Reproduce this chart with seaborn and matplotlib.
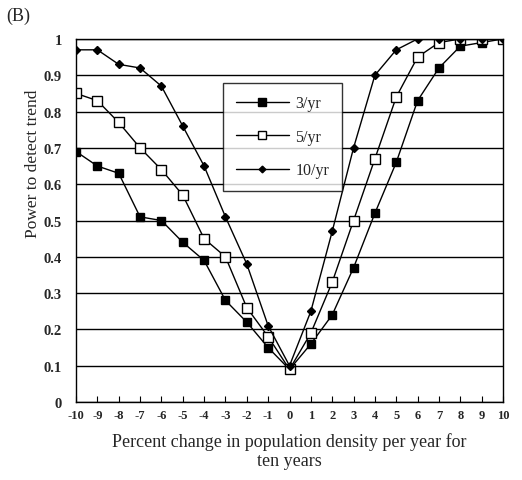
import matplotlib
matplotlib.use("Agg")
import matplotlib.pyplot as plt
import seaborn as sns
import pandas as pd

change = list(range(-10, 11))
power_3 = [0.69, 0.65, 0.63, 0.51, 0.50, 0.44, 0.39, 0.28, 0.22, 0.15, 0.09,
           0.16, 0.24, 0.37, 0.52, 0.66, 0.83, 0.92, 0.98, 0.99, 1.0]
power_5 = [0.85, 0.83, 0.77, 0.70, 0.64, 0.57, 0.45, 0.40, 0.26, 0.18, 0.09,
           0.19, 0.33, 0.50, 0.67, 0.84, 0.95, 0.99, 1.0, 1.0, 1.0]
power_10 = [0.97, 0.97, 0.93, 0.92, 0.87, 0.76, 0.65, 0.51, 0.38, 0.21, 0.10,
            0.25, 0.47, 0.70, 0.90, 0.97, 1.0, 1.0, 1.0, 1.0, 1.0]
labels = ["3/yr", "5/yr", "10/yr"]

sns.set_style("white")
plt.rcParams['font.family'] = ['Liberation Serif', 'DejaVu Serif']

fig = plt.figure(figsize=(5.22, 4.81), dpi=100)
ax = fig.add_axes([0.1456, 0.162, 0.818, 0.755])

# стили маркеров для каждой серии
styles = [
    dict(marker='s', markersize=6, markerfacecolor='black', markeredgecolor='black'),
    dict(marker='s', markersize=7, markerfacecolor='white', markeredgecolor='black'),
    dict(marker='D', markersize=4, markerfacecolor='black', markeredgecolor='black'),
]
for vals, lab, st in zip([power_3, power_5, power_10], labels, styles):
    df = pd.DataFrame({'change': change, 'power': vals})
    sns.lineplot(x='change', y='power', data=df, ax=ax, color='black',
                 linewidth=1, label=lab, markeredgewidth=1, **st)

ax.set_xlim(-10, 10)
ax.set_ylim(0, 1)
ax.set_xticks(change)
ax.set_xticklabels([str(c) for c in change], fontsize=9, fontweight='bold')
yt = [i / 10 for i in range(11)]
ax.set_yticks(yt)
ax.set_yticklabels(['0'] + [f'{v:g}' for v in yt[1:]], fontsize=10.5, fontweight='bold')
ax.yaxis.grid(True, color='black', linewidth=1)
ax.xaxis.grid(False)
ax.tick_params(axis='x', direction='in', length=4, bottom=True, pad=5, color='black')
ax.tick_params(axis='y', length=0, pad=10)
for s in ax.spines.values():
    s.set_color('black')
    s.set_linewidth(1)

ax.set_xlabel('Percent change in population density per year for\nten years',
              fontsize=13, linespacing=1.15, labelpad=8)
ax.set_ylabel('Power to detect trend', fontsize=12.5)
ax.yaxis.set_label_coords(-0.082, 0.66)

leg = ax.legend(loc='upper left', bbox_to_anchor=(0.345, 0.88), borderaxespad=0,
                frameon=True, fancybox=False, edgecolor='black', fontsize=11.5,
                handlelength=3.3, borderpad=0.8, labelspacing=1.1,
                handletextpad=0.4, markerscale=0.85)
leg.get_frame().set_linewidth(1)

fig.text(0.012, 0.985, '(B)', fontsize=13, va='top', ha='left')

plt.savefig('out.png', dpi=100)
plt.close()
